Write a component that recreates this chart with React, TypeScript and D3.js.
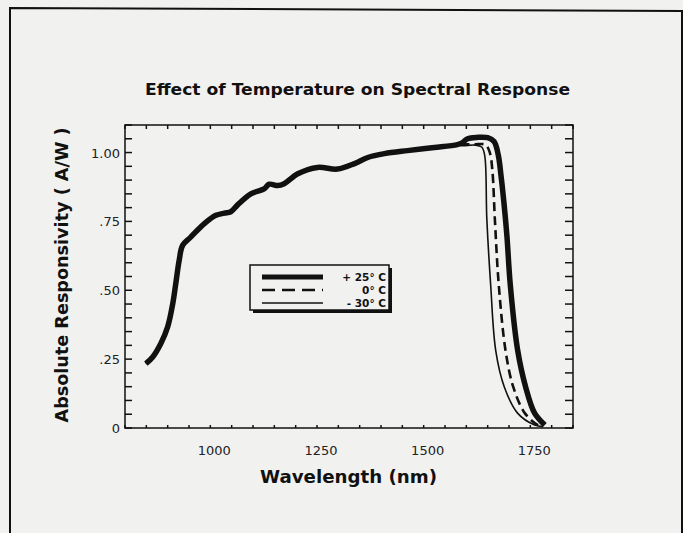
import React from 'react';
import * as d3 from 'd3';

// shared rising part of all three curves (nm, A/W)
const riseNm = [849, 865, 884, 900, 912, 919, 927, 935, 954, 986, 1013, 1033, 1048, 1064, 1095, 1126, 1138, 1158, 1173, 1205, 1251, 1298, 1338, 1369, 1408, 1462, 1525, 1579];
const riseVal = [0.234, 0.258, 0.307, 0.367, 0.452, 0.524, 0.609, 0.663, 0.693, 0.742, 0.772, 0.78, 0.785, 0.81, 0.85, 0.868, 0.885, 0.88, 0.887, 0.923, 0.946, 0.94, 0.96, 0.982, 0.996, 1.007, 1.018, 1.029];

// cut-off tails
const warmNm = [1590, 1603, 1625, 1650, 1665, 1675, 1681, 1688, 1695, 1703, 1720, 1739, 1760, 1784];
const warmVal = [1.035, 1.05, 1.055, 1.054, 1.04, 0.99, 0.92, 0.82, 0.70, 0.52, 0.285, 0.149, 0.054, 0.011];

const zeroNm = [1600, 1620, 1645, 1655, 1661, 1667, 1676, 1692, 1710, 1737, 1767, 1780];
const zeroVal = [1.03, 1.03, 1.028, 1.0, 0.935, 0.754, 0.52, 0.28, 0.149, 0.054, 0.011, 0.005];

const coldNm = [1590, 1620, 1636, 1643, 1648, 1657, 1669, 1689, 1720, 1760, 1780];
const coldVal = [1.025, 1.027, 1.02, 0.99, 0.76, 0.52, 0.28, 0.149, 0.054, 0.011, 0.005];

const legendLabels = ['+ 25° C', '0° C', '- 30° C'];
const xTickLabels = [1000, 1250, 1500, 1750];
const yTickLabels = [0, 0.25, 0.5, 0.75, 1.0];

const W = 683;
const H = 533;
const plot = { left: 125, right: 573, top: 125, bottom: 428 };
const bg = '#f1f1f0';
const ink = '#111';
const font = 'DejaVu Sans, sans-serif';

function series(nm: number[], val: number[]) {
  const pts: [number, number][] = riseNm.map((n, i) => [n, riseVal[i]]);
  nm.forEach((n, i) => pts.push([n, val[i]]));
  return pts;
}

export default function App() {
  const x = d3.scaleLinear().domain([800, 1850]).range([plot.left, plot.right]);
  const y = d3.scaleLinear().domain([0, 1.1]).range([plot.bottom, plot.top]);
  const line = d3
    .line<[number, number]>()
    .x((d) => x(d[0]))
    .y((d) => y(d[1]))
    .curve(d3.curveCatmullRom.alpha(0.5));

  const xMinor = d3.range(800, 1851, 50);
  const yMinor = d3.range(0, 1.1001, 0.05);

  const fmtY = (v: number) => (v === 0 ? '0' : v === 1 ? '1.00' : d3.format('.2f')(v).replace(/^0/, ''));

  const legendY = [277, 290, 303];

  return (
    <svg width={W} height={H} style={{ position: 'absolute', left: 0, top: 0, background: bg }}>
      <rect x={0} y={0} width={W} height={H} fill={bg} />
      {/* page frame */}
      <path d={`M10,${H + 5} L10,8 L682,11 L682,${H + 5}`} fill="none" stroke={ink} strokeWidth={2} />

      <text x={357.5} y={95} textAnchor="middle" fontFamily={font} fontWeight="bold" fontSize={16} fill={ink}
        textLength={425} lengthAdjust="spacingAndGlyphs">
        Effect of Temperature on Spectral Response
      </text>

      {/* plot frame */}
      <rect x={plot.left} y={plot.top} width={plot.right - plot.left} height={plot.bottom - plot.top}
        fill="none" stroke={ink} strokeWidth={1.5} />

      {yMinor.map((v, i) => (
        <g key={'yt' + i}>
          <line x1={plot.left} x2={plot.left + 7} y1={y(v)} y2={y(v)} stroke={ink} strokeWidth={1.5} />
          <line x1={plot.right} x2={plot.right - 8} y1={y(v)} y2={y(v)} stroke={ink} strokeWidth={1.5} />
        </g>
      ))}
      {xMinor.map((v, i) => (
        <g key={'xt' + i}>
          <line x1={x(v)} x2={x(v)} y1={plot.top} y2={plot.top + 4} stroke={ink} strokeWidth={1.5} />
          <line x1={x(v)} x2={x(v)} y1={plot.bottom} y2={plot.bottom - 3} stroke={ink} strokeWidth={1.5} />
        </g>
      ))}

      {yTickLabels.map((v) => (
        <text key={'yl' + v} x={120} y={y(v) + 5} textAnchor="end" fontFamily={font} fontSize={13} fill="#222">
          {fmtY(v)}
        </text>
      ))}
      {xTickLabels.map((v) => (
        <text key={'xl' + v} x={x(v) + 4} y={455} textAnchor="middle" fontFamily={font} fontSize={13} fill="#222">
          {v}
        </text>
      ))}

      <text x={348.5} y={483} textAnchor="middle" fontFamily={font} fontWeight="bold" fontSize={17} fill={ink}
        textLength={177} lengthAdjust="spacingAndGlyphs">
        Wavelength (nm)
      </text>
      <text transform="translate(68,275) rotate(-90)" textAnchor="middle" fontFamily={font} fontWeight="bold"
        fontSize={17} fill={ink} textLength={295} lengthAdjust="spacingAndGlyphs">
        Absolute Responsivity ( A/W )
      </text>

      {/* curves */}
      <path d={line(series(coldNm, coldVal)) || ''} fill="none" stroke={ink} strokeWidth={1.6} />
      <path d={line(series(zeroNm, zeroVal)) || ''} fill="none" stroke={ink} strokeWidth={2.6} strokeDasharray="9,5" />
      <path d={line(series(warmNm, warmVal)) || ''} fill="none" stroke={ink} strokeWidth={5.5} strokeLinejoin="round" />

      {/* legend */}
      <rect x={253} y={268} width={139} height={45} fill={ink} />
      <rect x={250} y={265} width={139} height={45} fill={bg} stroke={ink} strokeWidth={1.5} />
      <line x1={262} x2={323} y1={legendY[0]} y2={legendY[0]} stroke={ink} strokeWidth={5} />
      <line x1={262} x2={323} y1={legendY[1]} y2={legendY[1]} stroke={ink} strokeWidth={2.5} strokeDasharray="13,7" />
      <line x1={262} x2={323} y1={legendY[2]} y2={legendY[2]} stroke={ink} strokeWidth={1.6} />
      {legendLabels.map((t, i) => (
        <text key={t} x={386} y={legendY[i] + 4} textAnchor="end" fontFamily={font} fontWeight="bold" fontSize={10.5} fill={ink}>
          {t}
        </text>
      ))}
    </svg>
  );
}
